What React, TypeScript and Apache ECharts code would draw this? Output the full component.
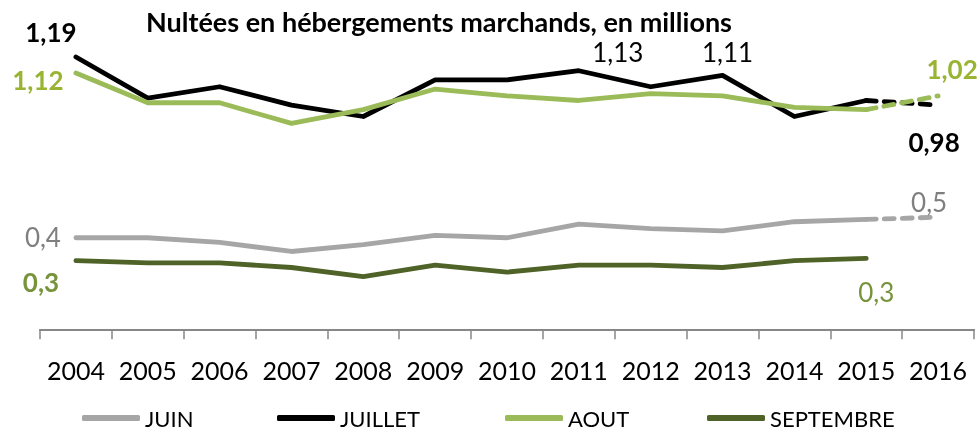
import React, { useEffect, useRef } from "react";
import * as echarts from "echarts";

// ---- data ----
const years = ["2004", "2005", "2006", "2007", "2008", "2009", "2010", "2011", "2012", "2013", "2014", "2015", "2016"];
const juin = [0.40, 0.40, 0.38, 0.34, 0.37, 0.41, 0.40, 0.46, 0.44, 0.43, 0.47, 0.48, 0.49];
const juillet = [1.19, 1.01, 1.06, 0.98, 0.93, 1.09, 1.09, 1.13, 1.06, 1.11, 0.93, 1.00, 0.98];
const aout = [1.12, 0.99, 0.99, 0.90, 0.96, 1.05, 1.02, 1.00, 1.03, 1.02, 0.97, 0.96, 1.02];
const septembre = [0.30, 0.29, 0.29, 0.27, 0.23, 0.28, 0.25, 0.28, 0.28, 0.27, 0.30, 0.31, null];
const seriesNames = ["JUIN", "JUILLET", "AOUT", "SEPTEMBRE"];
const titleText = "Nultées en hébergements marchands, en millions";

// ---- styles ----
const FONT = "Lato, 'Open Sans', sans-serif";
const colors: Record<string, string> = {
  JUIN: "#A6A6A6",
  JUILLET: "#000000",
  AOUT: "#9BBB59",
  SEPTEMBRE: "#4F6228",
};
const legendLeft: Record<string, number> = { JUIN: 77, JUILLET: 272, AOUT: 500, SEPTEMBRE: 702 };

type LabelSpec = { index: number; decimals: number; dx: number; dy: number; color: string; bold: boolean };
const labelSpecs: Record<string, LabelSpec[]> = {
  JUIN: [
    { index: 0, decimals: 1, dx: -33, dy: -1, color: "#7F7F7F", bold: false },
    { index: 12, decimals: 1, dx: -9, dy: -15, color: "#7F7F7F", bold: false },
  ],
  JUILLET: [
    { index: 0, decimals: 2, dx: -25, dy: -25, color: "#000000", bold: true },
    { index: 7, decimals: 2, dx: 39, dy: -19, color: "#000000", bold: false },
    { index: 9, decimals: 2, dx: 5, dy: -23, color: "#000000", bold: false },
    { index: 12, decimals: 2, dx: -4, dy: 37, color: "#000000", bold: true },
  ],
  AOUT: [
    { index: 0, decimals: 2, dx: -38, dy: 7, color: "#99B433", bold: true },
    { index: 12, decimals: 2, dx: 14, dy: -27, color: "#99B433", bold: true },
  ],
  SEPTEMBRE: [
    { index: 0, decimals: 1, dx: -35, dy: 21, color: "#77933C", bold: true },
    { index: 11, decimals: 1, dx: 10, dy: 34, color: "#77933C", bold: false },
  ],
};

const valuesByName: Record<string, (number | null)[]> = {
  JUIN: juin,
  JUILLET: juillet,
  AOUT: aout,
  SEPTEMBRE: septembre,
};

function buildData(name: string, values: (number | null)[], from: number, to: number) {
  const specs = labelSpecs[name] || [];
  return values.map((v, i) => {
    if (i < from || i > to || v === null) return null;
    const spec = specs.find((s) => s.index === i);
    if (!spec) return v;
    return {
      value: v,
      label: {
        show: true,
        position: "inside",
        offset: [spec.dx, spec.dy],
        formatter: v.toFixed(spec.decimals).replace(".", ","),
        color: spec.color,
        fontSize: 26,
        lineHeight: 24,
        fontWeight: spec.bold ? "bold" : "normal",
        fontFamily: FONT,
      },
    };
  });
}

export default function App() {
  const ref = useRef<HTMLDivElement>(null);
  useEffect(() => {
    if (!ref.current) return;
    const chart = echarts.init(ref.current, undefined, { renderer: "svg" });
    const series: any[] = [];
    seriesNames.forEach((name) => {
      const values = valuesByName[name];
      series.push({
        name,
        type: "line",
        data: buildData(name, values, 0, 11),
        showSymbol: true,
        symbol: "circle",
        symbolSize: 0,
        lineStyle: { color: colors[name], width: 4.8, cap: "round", join: "round" },
        itemStyle: { color: colors[name] },
        z: 2,
      });
      if (values[12] !== null) {
        series.push({
          name: name + " (prévision)",
          type: "line",
          data: buildData(name, values, 11, 12),
          showSymbol: true,
          symbol: "circle",
          symbolSize: 0,
          lineStyle: { color: colors[name], width: 4.8, type: [10, 8], cap: "round" },
          itemStyle: { color: colors[name] },
          z: 2,
        });
      }
    });

    chart.setOption({
      animation: false,
      title: {
        text: titleText,
        left: 439,
        top: 8,
        padding: 0,
        textAlign: "center",
        textStyle: { fontFamily: FONT, fontWeight: "bold", fontSize: 27, lineHeight: 26, color: "#000" },
      },
      legend: seriesNames.map((name) => ({
        data: [name],
        left: legendLeft[name],
        top: 402,
        itemWidth: 58,
        itemHeight: 6,
        icon: "roundRect",
        selectedMode: false,
        textStyle: { fontFamily: FONT, fontSize: 22, color: "#000" },
      })),
      grid: { left: 40, right: 3, top: 20.4, bottom: 97, containLabel: false },
      xAxis: {
        type: "category",
        data: years,
        boundaryGap: true,
        axisLine: { lineStyle: { color: "#878787", width: 2 } },
        axisTick: { show: true, length: 10, lineStyle: { color: "#878787", width: 1.5 } },
        axisLabel: { interval: 0, fontFamily: FONT, fontSize: 25, color: "#000", margin: 22 },
      },
      yAxis: {
        type: "value",
        min: -0.025,
        max: 1.35,
        show: false,
        splitLine: { show: false },
      },
      series,
    });
    return () => chart.dispose();
  }, []);
  return <div ref={ref} style={{ position: "fixed", left: 0, top: 0, width: 977, height: 432 }} />;
}
